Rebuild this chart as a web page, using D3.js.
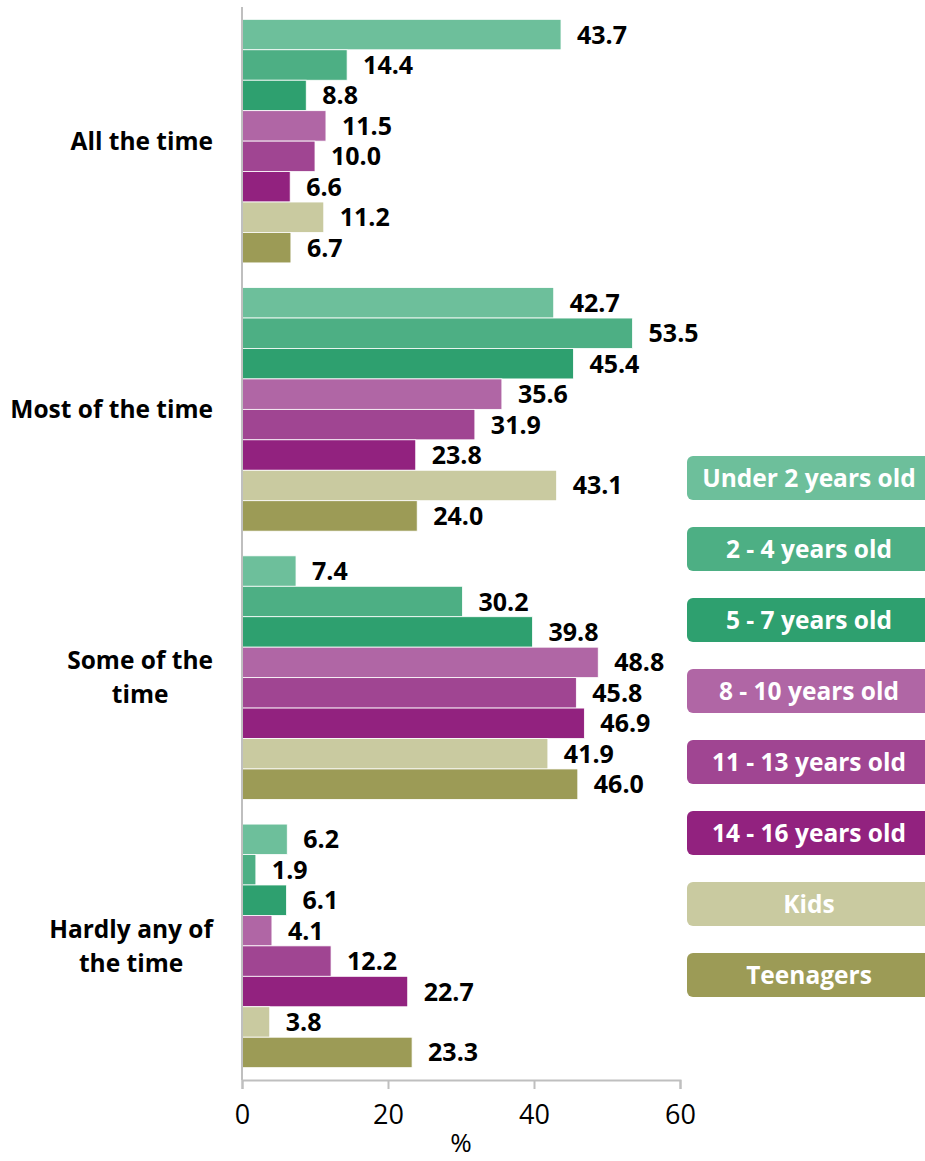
<!DOCTYPE html>
<html>
<head>
<meta charset="utf-8">
<script src="https://cdn.jsdelivr.net/npm/d3@7/dist/d3.min.js"></script>
<style>
  html, body { margin: 0; padding: 0; background: #fff; }
  svg text { font-family: "Open Sans", "Noto Sans", sans-serif; }
</style>
</head>
<body>
<div id="chart"></div>
<script>
/** Chart data */
const categories = ["All the time", "Most of the time", "Some of the time", "Hardly any of the time"];
const categoryLines = [["All the time"], ["Most of the time"], ["Some of the", "time"], ["Hardly any of", "the time"]];
const seriesNames = [
  "Under 2 years old", "2 - 4 years old", "5 - 7 years old", "8 - 10 years old",
  "11 - 13 years old", "14 - 16 years old", "Kids", "Teenagers"
];
const under2 = [43.7, 42.7, 7.4, 6.2];
const age2to4 = [14.4, 53.5, 30.2, 1.9];
const age5to7 = [8.8, 45.4, 39.8, 6.1];
const age8to10 = [11.5, 35.6, 48.8, 4.1];
const age11to13 = [10.0, 31.9, 45.8, 12.2];
const age14to16 = [6.6, 23.8, 46.9, 22.7];
const kids = [11.2, 43.1, 41.9, 3.8];
const teenagers = [6.7, 24.0, 46.0, 23.3];
const seriesValues = [under2, age2to4, age5to7, age8to10, age11to13, age14to16, kids, teenagers];
const colors = ["#6dbf9b", "#4daf84", "#2ea06f", "#b066a5", "#a04592", "#92227f", "#c9caa0", "#9c9b56"];
const xTicks = [0, 20, 40, 60];

/** Graph configs */
const width = 925;
const height = 1161;
const plotLeft = 242;
const plotRight = 680;
const plotTop = 7;
const plotBottom = 1080;

/** Flatten into rows for binding */
const rows = [];
categories.forEach((cat, ci) => {
  seriesNames.forEach((name, si) => {
    rows.push({ cat, name, value: seriesValues[si][ci], color: colors[si] });
  });
});

/** Scales */
const xScale = d3.scaleLinear().domain([0, 60]).range([plotLeft, plotRight]);
const yScale = d3.scaleBand()
  .domain(categories)
  .range([plotTop, plotBottom])
  .paddingInner(0.092)
  .paddingOuter(0.046);
const ySub = d3.scaleBand().domain(seriesNames).range([0, yScale.bandwidth()]);

const svg = d3.select("#chart").append("svg")
  .attr("width", width)
  .attr("height", height);

/** Bars */
svg.append("g").selectAll("rect")
  .data(rows)
  .enter()
  .append("rect")
  .attr("x", xScale(0))
  .attr("y", (d) => yScale(d.cat) + ySub(d.name))
  .attr("width", (d) => xScale(d.value) - xScale(0))
  .attr("height", ySub.bandwidth())
  .attr("fill", (d) => d.color)
  .attr("stroke", "#fff")
  .attr("stroke-width", 0.8);

/** Value labels */
svg.append("g").selectAll("text")
  .data(rows)
  .enter()
  .append("text")
  .attr("x", (d) => xScale(d.value) + 16)
  .attr("y", (d) => yScale(d.cat) + ySub(d.name) + ySub.bandwidth() / 2)
  .attr("dy", "0.36em")
  .attr("font-size", 25)
  .attr("font-weight", "bold")
  .attr("fill", "#000")
  .text((d) => d.value.toFixed(1));

/** X axis */
const xAxis = svg.append("g")
  .attr("transform", `translate(0,${plotBottom})`)
  .call(d3.axisBottom(xScale).tickValues(xTicks).tickSize(9).tickPadding(16).tickFormat(d3.format("d")));
xAxis.select(".domain").attr("stroke", "#bfbfbf").attr("stroke-width", 2);
xAxis.selectAll(".tick line").attr("stroke", "#bfbfbf").attr("stroke-width", 2);
xAxis.selectAll(".tick text")
  .attr("font-size", 27)
  .attr("fill", "#000")
  .attr("font-family", "Open Sans, sans-serif");

svg.append("text")
  .attr("x", (plotLeft + plotRight) / 2)
  .attr("y", 1152)
  .attr("text-anchor", "middle")
  .attr("font-size", 26)
  .text("%");

/** Y axis line */
svg.append("line")
  .attr("x1", plotLeft).attr("x2", plotLeft)
  .attr("y1", plotTop).attr("y2", plotBottom)
  .attr("stroke", "#bfbfbf")
  .attr("stroke-width", 2);

/** Category labels: block right-aligned, lines centered inside */
const labelRight = 213;
const lineHeight = 34;
categories.forEach((cat, ci) => {
  const lines = categoryLines[ci];
  const g = svg.append("g");
  const texts = g.selectAll("text")
    .data(lines)
    .enter()
    .append("text")
    .attr("font-size", 24.5)
    .attr("font-weight", "bold")
    .attr("text-anchor", "middle")
    .text((d) => d);
  const blockWidth = d3.max(texts.nodes(), (n) => n.getComputedTextLength());
  const cy = yScale(cat) + yScale.bandwidth() / 2;
  texts
    .attr("x", labelRight - blockWidth / 2)
    .attr("y", (_, i) => cy + (i - (lines.length - 1) / 2) * lineHeight)
    .attr("dy", "0.36em");
});

/** Legend boxes */
const legendX = 687;
const legendW = 244;
const legendH = 44;
const legendTop = 456;
const legendStep = 71;
const legend = svg.append("g").selectAll("g")
  .data(seriesNames)
  .enter()
  .append("g")
  .attr("transform", (_, i) => `translate(${legendX},${legendTop + i * legendStep})`);
legend.append("rect")
  .attr("width", legendW)
  .attr("height", legendH)
  .attr("rx", 6)
  .attr("fill", (_, i) => colors[i]);
legend.append("text")
  .attr("x", legendW / 2 - 0)
  .attr("y", legendH / 2)
  .attr("dy", "0.36em")
  .attr("text-anchor", "middle")
  .attr("font-size", 24.5)
  .attr("font-weight", "bold")
  .attr("fill", "#fff")
  .text((d) => d);
</script>
</body>
</html>
